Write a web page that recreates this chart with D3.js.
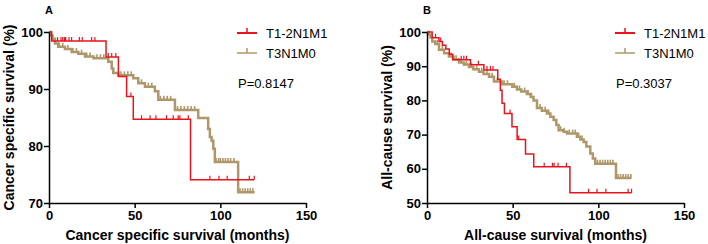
<!DOCTYPE html>
<html>
<head>
<meta charset="utf-8">
<script src="https://cdn.jsdelivr.net/npm/d3@7"></script>
<style>
  body { margin: 0; background: #fff; }
  svg text { font-family: Arial, "Liberation Sans", sans-serif; }
</style>
</head>
<body>
<div id="chart"></div>
<script>
//////////////////////////////////////////////////////////////////////////////
// Data

var groups = ["T1-2N1M1", "T3N1M0"];
var xTicks = [0, 50, 100, 150];

// Panel A : cancer specific survival
var aRedTimes = [0, 1.6, 33.3, 40.5, 45.3, 49.2, 82.6, 119.8];
var aRedSurv  = [100, 98.4, 95.6, 92.2, 88.7, 84.7, 74.1, 74.1];
var aRedCens  = [5, 7, 8, 9, 9.7, 11.7, 13.2, 17.7, 19.4, 24.9, 26.8, 34.6, 36.6, 39, 47.8,
                 54, 59, 62.4, 68.6, 72.5, 75.4, 76.4, 81.3, 93.9, 99.2, 104, 116.9, 119.8];

var aTanTimes = [0, 1, 2, 3.5, 5.4, 9.3, 13.2, 17.1, 21, 26, 34.6, 36.6, 37.5, 40.5, 49.2, 52.1,
                 56, 61.8, 63.8, 73.5, 87.1, 92.9, 93.9, 94.9, 95.9, 96.8, 110.4, 120];
var aTanSurv  = [100, 99.4, 98.8, 98, 97.4, 97, 96.5, 96.2, 95.7, 95.4, 94.8, 93.6, 92.8, 92.4, 91.9, 91,
                 90.4, 89.6, 88.1, 86.3, 84.9, 83, 81.6, 80.9, 79.5, 77.2, 71.9, 71.9];
var aTanCens  = [6, 8, 11, 14, 16, 19, 22, 24, 28, 30, 32, 42, 44, 46, 48, 54, 58, 60, 65, 67, 69, 71,
                 75, 77, 79, 81, 83, 85, 97.5, 99, 100, 101.5, 103, 104.5, 106, 108, 111.5, 113,
                 114.5, 116, 117.5, 119];

// Panel B : all-cause survival
var bRedTimes = [0, 3, 7, 9, 11, 13, 15, 25.4, 33.2, 41.3, 42.8, 43.8, 45.2, 49.6, 52.6, 57.5, 62.3, 83.4, 119.4];
var bRedSurv  = [100, 98.3, 97.2, 96.1, 95, 93.5, 91.9, 90.4, 88.9, 86.2, 83, 79.2, 76.2, 72.3, 68.6, 64.3, 60.6, 53, 53];
var bRedCens  = [5, 8, 20, 21.5, 23, 30, 35, 37, 38.5, 48.5, 53.5, 68.4, 73.2, 74.2, 76.5, 81.4,
                 94.3, 99.2, 104.4, 117.4, 119.4];

var bTanTimes = [0, 1, 2, 3.1, 4.8, 7, 10, 12.8, 15.5, 18.7, 21.5, 24.5, 27, 30.3, 33, 36.2, 39.1, 43.9,
                 49.8, 52.5, 55, 58.3, 60.5, 62.2, 64.2, 67, 70, 72, 73.9, 75.5, 76.8, 79.7, 81.7, 87.5,
                 89.5, 91.4, 93, 95.3, 96.8, 98.2, 110.3, 119.3];
var bTanSurv  = [100, 99.3, 98.4, 97.2, 96.5, 94.8, 93.8, 92.8, 92, 91.1, 90.5, 89.8, 89.1, 88.4, 87.7, 86.9, 85.5, 84.7,
                 84, 83.2, 82.6, 81.9, 81, 80, 77.8, 77, 76.2, 75.2, 74.3, 72.8, 71.3, 70.8, 70.3, 69.4,
                 68.6, 67.8, 66.5, 64.5, 63, 61.5, 57.3, 57.3];
var bTanCens  = [6, 9, 14, 17, 20, 23, 26, 29, 32, 35, 38, 41, 45, 47, 51, 54, 57, 59, 61, 66, 69, 71,
                 78, 80, 83, 85, 86.5, 88.5, 90.5, 99.5, 101, 102.5, 104, 105.5, 107, 108.5, 111.5,
                 113, 114.5, 116, 117.5, 119];

var panels = [
    { label: "A", left: 49, yDomain: [70, 100], yTicks: [70, 80, 90, 100],
      yTitle: "Cancer specific survival (%)", xTitle: "Cancer specific survival (months)",
      p: "P=0.8147", legX: 237, yTitleX: 9,
      series: [
          { times: aRedTimes, surv: aRedSurv, cens: aRedCens },
          { times: aTanTimes, surv: aTanSurv, cens: aTanCens } ] },
    { label: "B", left: 427, yDomain: [50, 100], yTicks: [50, 60, 70, 80, 90, 100],
      yTitle: "All-cause survival (%)", xTitle: "All-cause survival (months)",
      p: "P=0.3037", legX: 615, yTitleX: 387,
      series: [
          { times: bRedTimes, surv: bRedSurv, cens: bRedCens },
          { times: bTanTimes, surv: bTanSurv, cens: bTanCens } ] }
];

//////////////////////////////////////////////////////////////////////////////
// Drawing

var colors = ["#e8141c", "#ae986a"];
var widths = [1.5, 2.5];
var plotTop = 32, plotBottom = 203, plotW = 257;

var svg = d3.select("#chart").append("svg")
    .attr("width", 708)
    .attr("height", 244);

panels.forEach(function(pn) {
    var x = d3.scaleLinear().domain([0, 150]).range([pn.left, pn.left + plotW]);
    var y = d3.scaleLinear().domain(pn.yDomain).range([plotBottom, plotTop]);
    var g = svg.append("g");

    function survAt(s, t) {
        var i = d3.bisectRight(s.times, t) - 1;
        return s.surv[Math.max(i, 0)];
    }

    // curves (tan first so red sits on top)
    [1, 0].forEach(function(k) {
        var s = pn.series[k];
        var pts = s.times.map(function(t, i) { return [t, s.surv[i]]; });
        var line = d3.line()
            .curve(d3.curveStepAfter)
            .x(function(d) { return x(d[0]); })
            .y(function(d) { return y(d[1]); });
        g.append("path")
            .attr("d", line(pts))
            .attr("fill", "none")
            .attr("stroke", colors[k])
            .attr("stroke-width", widths[k]);

        g.selectAll(null)
            .data(s.cens)
            .enter()
            .append("line")
            .attr("x1", function(t) { return x(t); })
            .attr("x2", function(t) { return x(t); })
            .attr("y1", function(t) { return y(survAt(s, t)); })
            .attr("y2", function(t) { return y(survAt(s, t)) - 4; })
            .attr("stroke", colors[k])
            .attr("stroke-width", k === 0 ? 1.2 : 1.6);
    });

    // axes
    var yAxis = g.append("g")
        .attr("transform", "translate(" + pn.left + ",0)")
        .call(d3.axisLeft(y).tickValues(pn.yTicks).tickSize(5).tickSizeOuter(0));
    var xAxis = g.append("g")
        .attr("transform", "translate(0," + plotBottom + ")")
        .call(d3.axisBottom(x).tickValues(xTicks).tickSize(5).tickSizeOuter(0));

    [yAxis, xAxis].forEach(function(ax) {
        ax.select(".domain").attr("stroke", "#000").attr("stroke-width", 1.5);
        ax.selectAll(".tick line").attr("stroke", "#000").attr("stroke-width", 1.5);
        ax.selectAll(".tick text")
            .attr("font-family", "Arial, 'Liberation Sans', sans-serif")
            .attr("font-size", 13)
            .attr("font-weight", "bold")
            .attr("fill", "#000");
    });
    yAxis.selectAll(".tick text").attr("x", -6);
    xAxis.selectAll(".tick text").attr("y", 8);

    // titles
    g.append("text")
        .attr("x", pn.left)
        .attr("y", 14)
        .attr("text-anchor", "middle")
        .attr("font-size", 11)
        .attr("font-weight", "bold")
        .text(pn.label);

    g.append("text")
        .attr("transform", "translate(" + pn.yTitleX + "," + ((plotTop + plotBottom) / 2) + ") rotate(-90)")
        .attr("text-anchor", "middle")
        .attr("dominant-baseline", "central")
        .attr("font-size", 14)
        .attr("font-weight", "bold")
        .text(pn.yTitle);

    g.append("text")
        .attr("x", pn.left + plotW / 2)
        .attr("y", 240)
        .attr("text-anchor", "middle")
        .attr("font-size", 14)
        .attr("font-weight", "bold")
        .text(pn.xTitle);

    // legend
    groups.forEach(function(name, k) {
        var ly = 33 + k * 20;
        g.append("line")
            .attr("x1", pn.legX).attr("x2", pn.legX + 20)
            .attr("y1", ly).attr("y2", ly)
            .attr("stroke", colors[k]).attr("stroke-width", k === 0 ? 2 : 1.5);
        g.append("line")
            .attr("x1", pn.legX + 10).attr("x2", pn.legX + 10)
            .attr("y1", ly).attr("y2", ly - 5)
            .attr("stroke", colors[k]).attr("stroke-width", 1.5);
        g.append("text")
            .attr("x", pn.legX + 29)
            .attr("y", ly)
            .attr("dominant-baseline", "central")
            .attr("font-size", 13)
            .text(name);
    });

    g.append("text")
        .attr("x", pn.legX + 1)
        .attr("y", 83)
        .attr("dominant-baseline", "central")
        .attr("font-size", 13)
        .text(pn.p);
});
</script>
</body>
</html>
